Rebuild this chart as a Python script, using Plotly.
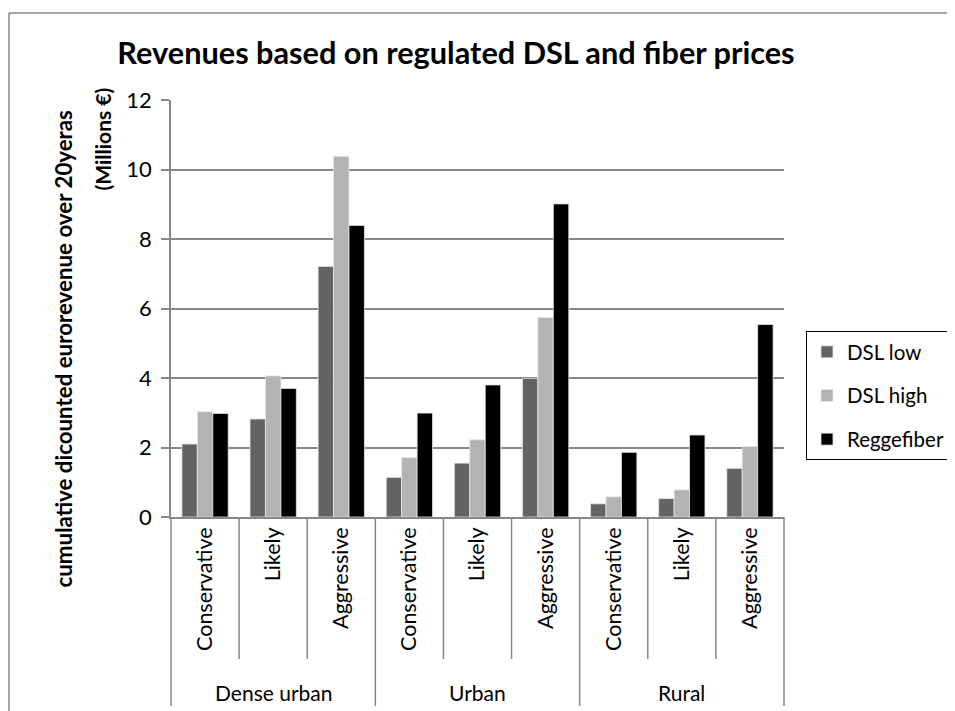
import plotly.graph_objects as go

# ---------------- data ----------------
groups = ["Dense urban", "Urban", "Rural"]
scenarios = ["Conservative", "Likely", "Aggressive"]
series_names = ["DSL low", "DSL high", "Reggefiber"]
dsl_low = [2.10, 2.82, 7.21, 1.14, 1.55, 3.99, 0.38, 0.53, 1.40]
dsl_high = [3.03, 4.06, 10.38, 1.71, 2.22, 5.74, 0.58, 0.78, 2.03]
reggefiber = [2.98, 3.70, 8.39, 2.99, 3.80, 9.01, 1.86, 2.36, 5.54]
y_ticks = [0, 2, 4, 6, 8, 10, 12]
title_text = "Revenues based on regulated DSL and fiber prices"
ytitle_line1 = "cumulative dicounted eurorevenue over 20yeras"
ytitle_line2 = "(Millions €)"

# ---------------- style / geometry ----------------
FONT = "Lato"
colors = ["#636363", "#b3b3b3", "#000000"]
GRID = "#878787"
OFF = 8                      # page body margin of the html page
PAGE_W, PAGE_H = 955, 711
W, H = PAGE_W - OFF, PAGE_H - OFF
# target page pixel positions of the plot area
P_LEFT, P_RIGHT, P_TOP, P_BOTTOM = 171, 784, 100, 517
L = P_LEFT - OFF
T = P_TOP - OFF
R = W - (P_RIGHT - OFF)
B = H - (P_BOTTOM - OFF)
plot_w = W - L - R
plot_h = H - T - B


def px_x(page_px):
    return (page_px - OFF - L) / plot_w


def px_y(page_py):
    return (H - B - (page_py - OFF)) / plot_h


categories = [(g, s) for g in groups for s in scenarios]
positions = list(range(len(categories)))
n = len(categories)

fig = go.Figure()
for name, vals, col in zip(series_names, [dsl_low, dsl_high, reggefiber], colors):
    fig.add_trace(go.Bar(
        x=positions, y=vals, name=name, legendgroup=name,
        marker=dict(color=col, line=dict(color="#e6e6e6", width=0.8)),
    ))

shapes = []
# category / group dividers below the axis
for i in range(n + 1):
    is_group = (i % len(scenarios) == 0)
    shapes.append(dict(
        type="line", xref="paper", yref="paper",
        x0=i / n, x1=i / n, y0=0, y1=px_y(706 if is_group else 659),
        line=dict(color=GRID, width=1.5),
    ))
# outer chart border (top & left visible)
shapes.append(dict(type="line", xref="paper", yref="paper",
                   x0=px_x(9), x1=px_x(970), y0=px_y(13), y1=px_y(13),
                   line=dict(color=GRID, width=1.5)))
shapes.append(dict(type="line", xref="paper", yref="paper",
                   x0=px_x(9), x1=px_x(9), y0=px_y(13), y1=px_y(730),
                   line=dict(color=GRID, width=1.5)))

annotations = []
for gi, g in enumerate(groups):
    annotations.append(dict(
        text=g, xref="x", x=gi * len(scenarios) + (len(scenarios) - 1) / 2,
        yref="paper", y=px_y(692), showarrow=False,
        font=dict(family=FONT, size=21, color="black"),
        xanchor="center", yanchor="middle",
    ))
annotations.append(dict(
    text="<b>" + ytitle_line1 + "</b>", xref="paper", yref="paper",
    x=px_x(62.5), y=px_y(349), textangle=-90, showarrow=False,
    font=dict(family=FONT, size=22.3, color="black"),
    xanchor="center", yanchor="middle",
))
annotations.append(dict(
    text="<b>" + ytitle_line2 + "</b>", xref="paper", yref="paper",
    x=px_x(101.5), y=px_y(139), textangle=-90, showarrow=False,
    font=dict(family=FONT, size=21, color="black"),
    xanchor="center", yanchor="middle",
))

fig.update_layout(
    width=W, height=H,
    margin=dict(l=L, r=R, t=T, b=B, pad=0, autoexpand=False),
    paper_bgcolor="white", plot_bgcolor="white",
    barmode="group", bargap=0.32, bargroupgap=0,
    title=dict(text="<b>" + title_text + "</b>", x=(456 - OFF) / W, xref="container",
               xanchor="center", y=1 - (53 - OFF) / H, yref="container", yanchor="middle",
               font=dict(family=FONT, size=30.7, color="black")),
    xaxis=dict(
        range=[-0.5, n - 0.5], tickmode="array", tickvals=positions,
        ticktext=[s for _, s in categories], tickangle=-90,
        tickfont=dict(family=FONT, size=21.5, color="black"),
        showline=True, linecolor=GRID, linewidth=1.5, ticks="",
        showgrid=False, zeroline=False, fixedrange=True, automargin=False,
    ),
    yaxis=dict(
        range=[0, 12], tickmode="array", tickvals=y_ticks,
        tickfont=dict(family=FONT, size=22, color="black"),
        showline=True, linecolor=GRID, linewidth=1.5,
        ticks="outside", ticklen=8, tickcolor=GRID, tickwidth=1.5,
        showgrid=True, gridcolor=GRID, gridwidth=1.5, zeroline=False,
        ticklabelstandoff=5, automargin=False,
    ),
    legend=dict(
        xref="container", yref="container",
        x=(806 - OFF) / W, y=1 - (331 - OFF) / H, xanchor="left", yanchor="top",
        bordercolor="black", borderwidth=1, bgcolor="white",
        font=dict(family=FONT, size=20.5, color="black"),
        tracegroupgap=14,
    ),
    shapes=shapes, annotations=annotations, showlegend=True,
)

fig.write_html("out.html")
